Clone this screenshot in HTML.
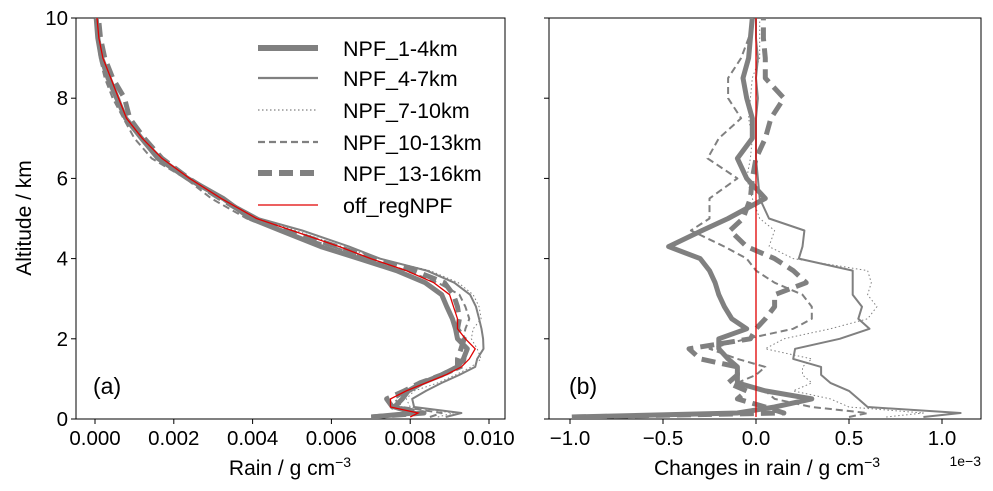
<!DOCTYPE html>
<html><head><meta charset="utf-8"><style>
body{margin:0;background:#fff;}
svg{display:block;font-family:"Liberation Sans",Arial,sans-serif;}
</style></head><body>
<svg id="chart" width="993" height="491" viewBox="0 0 993 491"></svg>
<script>
const altitudes=[0.05,0.15,0.3,0.5,0.7,0.9,1.1,1.3,1.5,1.75,2.0,2.25,2.5,2.8,3.1,3.4,3.7,4.0,4.3,4.7,5.0,5.5,6.0,6.5,7.0,7.5,8.0,8.5,9.0,9.5,10];
const baseRain=[0.0080,0.0082,0.0075,0.0075,0.0079,0.0084,0.0089,0.0093,0.0095,0.00965,0.0094,0.0092,0.0092,0.0091,0.0090,0.0086,0.0079,0.0070,0.0062,0.0050,0.0041,0.0032,0.0024,0.0017,0.0012,0.0008,0.0006,0.0004,0.0002,0.0001,0.00005];
const diff1_4=[-0.99,-0.1,0.1,0.3,0.05,-0.1,-0.1,-0.1,-0.15,-0.2,-0.2,-0.05,-0.13,-0.17,-0.2,-0.22,-0.25,-0.3,-0.47,-0.29,-0.15,0.05,-0.05,-0.1,-0.02,-0.02,-0.05,-0.07,-0.04,-0.03,-0.02];
const diff4_7=[0.9,1.1,0.6,0.55,0.5,0.4,0.35,0.35,0.2,0.21,0.45,0.61,0.55,0.57,0.52,0.52,0.52,0.23,0.25,0.26,0.07,0.02,0.01,0,0,0,0.01,0,0.01,0,0];
const diff7_10=[0.7,0.9,0.5,0.4,0.2,0.3,0.25,0.25,0.3,0.05,0.15,0.4,0.6,0.65,0.6,0.62,0.6,0.2,0.07,0.1,0.02,-0.02,-0.05,-0.03,-0.02,-0.04,-0.03,-0.02,0.02,0.02,0.02];
const diff10_13=[0.5,0.6,0.3,0.1,0.05,-0.1,0,0.05,-0.1,-0.25,-0.05,0.2,0.3,0.3,0.25,0.1,0.0,-0.05,-0.17,-0.35,-0.25,-0.25,-0.1,-0.26,-0.2,-0.08,-0.15,-0.15,-0.08,-0.04,-0.02];
const diff13_16=[-0.99,0.15,0.05,-0.1,-0.05,-0.15,-0.1,-0.1,-0.3,-0.36,-0.03,0.0,0.05,0.1,0.1,0.27,0.2,0.1,-0.05,-0.14,-0.07,-0.03,-0.02,0,0.05,0.08,0.15,0.05,0.05,0.04,0.04];
const seriesNames=["NPF_1-4km","NPF_4-7km","NPF_7-10km","NPF_10-13km","NPF_13-16km","off_regNPF"];
const leftTicks=["0.000","0.002","0.004","0.006","0.008","0.010"];
const rightTicks=["−1.0","−0.5","0.0","0.5","1.0"];
const altTicks=[0,2,4,6,8,10];

const NS="http://www.w3.org/2000/svg";
const svg=document.getElementById('chart');
function mk(t,a,p){const e=document.createElementNS(NS,t);for(const k in a)e.setAttribute(k,a[k]);(p||svg).appendChild(e);return e;}
const Y0=419,Y1=18;
const yS=a=>Y0+(Y1-Y0)*a/10;
const xL=v=>95+v*39400;
const xR=d=>756+d*186;
const styles=[
 {w:5,dash:""},{w:2,dash:""},{w:1,dash:"1.5,2.5"},{w:2,dash:"7,4"},{w:5,dash:"14,7"}];
const diffs=[diff1_4,diff4_7,diff7_10,diff10_13,diff13_16];

const defs=mk('defs',{});
const c1=mk('clipPath',{id:'cl'},defs);mk('rect',{x:76,y:18,width:429,height:401},c1);
const c2=mk('clipPath',{id:'cr'},defs);mk('rect',{x:549,y:18,width:432,height:401},c2);

function panel(x0,x1,name){
 const f=mk('rect',{x:x0,y:18,width:x1-x0,height:401,fill:'none',stroke:'#000','stroke-width':1});
 
 
 altTicks.forEach(t=>{mk('line',{x1:x0-5,x2:x0,y1:yS(t),y2:yS(t),stroke:'#000'});});
}
panel(76,505,'left-axes');panel(549,981,'right-axes');

altTicks.forEach(t=>{const e=mk('text',{x:68,y:yS(t)+7,'text-anchor':'end','font-size':20.5});e.textContent=t;
 
 });
leftTicks.forEach(t=>{const x=xL(parseFloat(t));mk('line',{x1:x,x2:x,y1:419,y2:424,stroke:'#000'});
 const e=mk('text',{x:x,y:445,'text-anchor':'middle','font-size':20.5});e.textContent=t;
 
 });
rightTicks.forEach(t=>{const x=xR(parseFloat(t.replace('−','-')));mk('line',{x1:x,x2:x,y1:419,y2:424,stroke:'#000'});
 const e=mk('text',{x:x,y:445,'text-anchor':'middle','font-size':20.5});e.textContent=t;
 
 });

function path(xs,ys){return xs.map((x,i)=>(i?'L':'M')+x.toFixed(1)+','+ys[i].toFixed(1)).join(' ');}
const gL=mk('g',{'clip-path':'url(#cl)'});
const gR=mk('g',{'clip-path':'url(#cr)'});
const ys=altitudes.map(yS);
diffs.forEach((d,i)=>{
 const st=styles[i];
 const pl=mk('path',{d:path(altitudes.map((a,j)=>xL(baseRain[j]+d[j]/1000)),ys),fill:'none',stroke:'#808080','stroke-width':st.w,'stroke-dasharray':st.dash,'stroke-linejoin':'round'},gL);
 
 
 const pr=mk('path',{d:path(d.map(v=>xR(v)),ys),fill:'none',stroke:'#808080','stroke-width':st.w,'stroke-dasharray':st.dash,'stroke-linejoin':'round'},gR);
 
 
});
const rl=mk('path',{d:path(baseRain.map(xL),ys),fill:'none',stroke:'#e00000','stroke-width':1.3},gL);


const rr=mk('path',{d:path(baseRain.map(()=>xR(0)),ys),fill:'none',stroke:'#e00000','stroke-width':1.3},gR);



const legY=[48,78,110,142,173,205];
const legW=[6,2.2,1.2,2.2,6,1.3];
seriesNames.forEach((n,i)=>{
 const st=i<5?styles[i]:{w:1.3,dash:""};
 const ln=mk('line',{x1:258,x2:318,y1:legY[i],y2:legY[i],stroke:i<5?'#808080':'#e00000','stroke-width':legW[i],'stroke-dasharray':st.dash});
 
 
 const t=mk('text',{x:343,y:legY[i]+8,'font-size':21.5});t.textContent=n;
 
 
});
</script>
<svg style="position:absolute;left:0;top:0" width="993" height="491">
 <text x="93" y="394" font-size="23" font-family="Liberation Sans, sans-serif">(a)</text>
 <text x="569" y="394" font-size="23" font-family="Liberation Sans, sans-serif">(b)</text>
 <text x="290" y="475" text-anchor="middle" font-size="21" font-family="Liberation Sans, sans-serif">Rain / g cm<tspan dy="-8" font-size="14">−3</tspan></text>
 <text x="767" y="475" text-anchor="middle" font-size="21" font-family="Liberation Sans, sans-serif">Changes in rain / g cm<tspan dy="-8" font-size="14">−3</tspan></text>
 <text x="981" y="466" text-anchor="end" font-size="14" font-family="Liberation Sans, sans-serif">1e−3</text>
 <text transform="translate(31,218) rotate(-90)" text-anchor="middle" font-size="21" font-family="Liberation Sans, sans-serif">Altitude / km</text>
</svg>
</body></html>
